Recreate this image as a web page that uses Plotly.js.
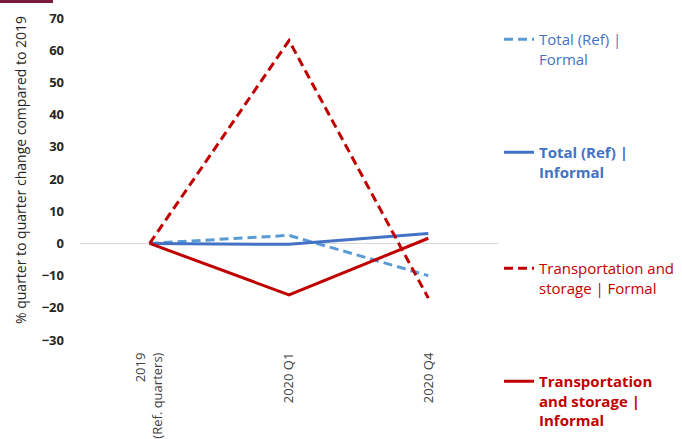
<!DOCTYPE html>
<html><head><meta charset="utf-8">
<script src="https://cdn.plot.ly/plotly-3.0.1.min.js"></script>
<style>html,body{margin:0;padding:0;background:#fff}#c{width:682px;height:439px}</style>
</head><body><div id="c"></div>
<script>
const categories = ["2019<br>(Ref. quarters)", "2020 Q1", "2020 Q4"];
const totalFormal = [0, 2.5, -10];
const totalInformal = [0, -0.3, 3.1];
const transportFormal = [0, 63, -17];
const transportInformal = [0, -16, 1.6];
const seriesNames = ["Total (Ref) |<br>Formal", "<b>Total (Ref) |<br>Informal</b>", "Transportation and<br>storage | Formal", "<b>Transportation<br>and storage |<br>Informal</b>"];
const yTicks = [-30, -20, -10, 0, 10, 20, 30, 40, 50, 60, 70];
const yTitle = '% quarter to quarter change compared to 2019';

const H = 439;
function cy(px){ return 1 - px / H; }
const legX = 499 / 682;
const baseLeg = {xref: 'container', yref: 'container', x: legX, xanchor: 'left', yanchor: 'top', valign: 'top', bgcolor: 'rgba(0,0,0,0)', itemwidth: 30, tracegroupgap: 0};
const FONT = '"Open Sans", "Noto Sans", sans-serif';
const DASH = '9px,5px';

const traces = [
  {x: categories, y: totalFormal, name: seriesNames[0], legend: 'legend', line: {color: '#5B9BD5', width: 3, dash: DASH}},
  {x: categories, y: totalInformal, name: seriesNames[1], legend: 'legend2', line: {color: '#4472C4', width: 3}},
  {x: categories, y: transportFormal, name: seriesNames[2], legend: 'legend3', line: {color: '#C00000', width: 3, dash: DASH}},
  {x: categories, y: transportInformal, name: seriesNames[3], legend: 'legend4', line: {color: '#C00000', width: 3}}
].map(t => Object.assign({type: 'scatter', mode: 'lines', hoverinfo: 'skip', showlegend: true}, t));

const layout = {
  width: 682, height: 439,
  showlegend: true,
  margin: {l: 80, r: 184, t: 18, b: 99},
  paper_bgcolor: '#fff', plot_bgcolor: '#fff',
  font: {family: FONT, color: '#404040'},
  xaxis: {type: 'category', range: [-0.5, 2.5], automargin: false, showgrid: false, zeroline: false, showline: false, ticks: '', tickangle: -90, ticklabelstandoff: 9, tickfont: {size: 13, color: '#404040'}},
  yaxis: {range: [-30, 70], automargin: false, tickvals: yTicks, showgrid: false, zeroline: true, zerolinecolor: '#d9d9d9', zerolinewidth: 1, showline: false, ticks: '', ticklabelstandoff: 15, tickfont: {size: 13, color: '#262626', weight: 'bold'}},
  annotations: [{text: yTitle, xref: 'paper', yref: 'paper', x: -60/418, y: (340-170)/322, xanchor: 'center', yanchor: 'middle', textangle: -90, showarrow: false, font: {size: 14, color: '#262626'}}],
  legend: Object.assign({}, baseLeg, {y: cy(23), font: {size: 15, color: '#4472C4'}}),
  legend2: Object.assign({}, baseLeg, {y: cy(136), font: {size: 15, color: '#4472C4'}}),
  legend3: Object.assign({}, baseLeg, {y: cy(252), font: {size: 15, color: '#C00000'}}),
  legend4: Object.assign({}, baseLeg, {y: cy(365), font: {size: 15, color: '#C00000'}}),
  shapes: [{type: 'rect', xref: 'paper', yref: 'paper', x0: -80/418, x1: -27/418, y0: (340-3)/322, y1: 340/322, fillcolor: '#7B1C3B', line: {width: 0}}]
};
Plotly.newPlot('c', traces, layout, {staticPlot: true});
</script></body></html>
